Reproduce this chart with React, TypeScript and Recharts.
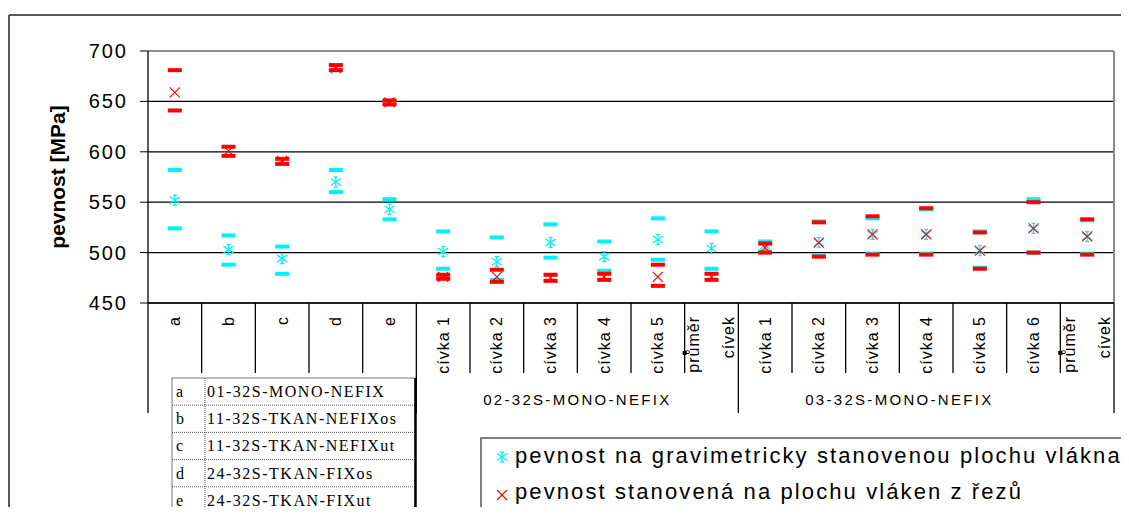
import { ComposedChart, Line, XAxis, YAxis, CartesianGrid, ReferenceLine } from "recharts";

const categories = [
  "a", "b", "c", "d", "e",
  "cívka 1", "cívka 2", "cívka 3", "cívka 4", "cívka 5", "průměr cívek",
  "cívka 1", "cívka 2", "cívka 3", "cívka 4", "cívka 5", "cívka 6", "průměr cívek",
];

// pevnost na gravimetricky stanovenou plochu vlákna
const cyanMean = [552, 503, 494, 570, 543, 501, 491, 510, 496, 513, 504, 507, 510, 518, 518, 502, 524, 516];
const cyanMax = [582, 517, 506, 582, 553, 521, 515, 528, 511, 534, 521, 511, 531, 534, 543, 521, 553, 532];
const cyanMin = [524, 488, 479, 560, 533, 484, 473, 495, 482, 493, 484, 501, 497, 499, 499, 485, 500, 499];

// pevnost stanovená na plochu vláken z řezů
const redMean = [659, 601, 591, 683, 649, 476, 476, 475, 476, 476, 476, 505, 510, 518, 518, 502, 524, 516];
const redMax = [681, 605, 593, 686, 651, 478, 483, 478, 479, 488, 479, 509, 530, 536, 544, 520, 550, 533];
const redMin = [641, 596, 588, 681, 647, 474, 471, 472, 473, 467, 473, 500, 496, 498, 498, 484, 500, 498];

const yTicks = [450, 500, 550, 600, 650, 700];
const groupBounds = [0, 5, 11, 18];
const averageBounds = [10, 17];
const groupLabels = ["02-32S-MONO-NEFIX", "03-32S-MONO-NEFIX"];
const groupLabelAt = [8, 14];

const tableKeys = ["a", "b", "c", "d", "e"];
const tableNames = [
  "01-32S-MONO-NEFIX",
  "11-32S-TKAN-NEFIXos",
  "11-32S-TKAN-NEFIXut",
  "24-32S-TKAN-FIXos",
  "24-32S-TKAN-FIXut",
];
const legendLabels = [
  "pevnost na gravimetricky stanovenou plochu vlákna",
  "pevnost stanovená na plochu vláken z řezů",
];

const CYAN = "#00f0f8";
const RED = "#ff0000";
const SANS = "Arial, 'Liberation Sans', sans-serif";
const SERIF = "'Liberation Serif', 'Times New Roman', serif";

const data = categories.map((name, i) => ({
  x: i + 0.5,
  name,
  cMean: cyanMean[i],
  cMax: cyanMax[i],
  cMin: cyanMin[i],
  rMean: redMean[i],
  rMax: redMax[i],
  rMin: redMin[i],
}));

const xTicks = Array.from({ length: categories.length * 2 + 1 }, (_, i) => i / 2);

function Dash({ cx, cy, color }: any) {
  if (cx == null || cy == null) return null;
  return <rect x={cx - 7} y={cy - 2} width={14} height={4} fill={color} />;
}

function Star({ cx, cy, color, size = 5 }: any) {
  if (cx == null || cy == null) return null;
  const s = size;
  return (
    <g stroke={color} strokeWidth={1.3} fill="none">
      <line x1={cx} y1={cy - s} x2={cx} y2={cy + s} />
      <line x1={cx - s} y1={cy - s * 0.7} x2={cx + s} y2={cy + s * 0.7} />
      <line x1={cx - s} y1={cy + s * 0.7} x2={cx + s} y2={cy - s * 0.7} />
      <line x1={cx - 2} y1={cy - s} x2={cx + 2} y2={cy - s} />
      <line x1={cx - 2} y1={cy + s} x2={cx + 2} y2={cy + s} />
    </g>
  );
}

function Cross({ cx, cy, color, size = 5 }: any) {
  if (cx == null || cy == null) return null;
  const s = size;
  return (
    <g stroke={color} strokeWidth={1.1} fill="none">
      <line x1={cx - s} y1={cy - s} x2={cx + s} y2={cy + s} />
      <line x1={cx - s} y1={cy + s} x2={cx + s} y2={cy - s} />
    </g>
  );
}

function YTick({ x, y, payload }: any) {
  return (
    <text x={x} y={y} textAnchor="end" dominantBaseline="central" fontSize={20} letterSpacing={2} fontFamily={SANS} fill="#000">
      {payload.value}
    </text>
  );
}

function CatLabel({ x, y, text }: any) {
  return (
    <text
      transform={`translate(${x},${y}) rotate(-90)`}
      textAnchor="end"
      dominantBaseline="central"
      fontSize={16}
      letterSpacing={1}
      fontFamily={SANS}
      fill="#000"
    >
      {text}
    </text>
  );
}

function XTick({ x, y, payload }: any) {
  const v = payload.value;
  if (Number.isInteger(v)) {
    const long = groupBounds.includes(v);
    const gi = groupLabelAt.indexOf(v);
    return (
      <g>
        <line x1={x} x2={x} y1={y} y2={y + (long ? 110 : 70)} stroke="#000" strokeWidth={1.3} />
        {averageBounds.includes(v) && <rect x={x - 2} y={y + 48} width={4} height={4} fill="#000" />}
        {gi >= 0 && (
          <text x={x} y={y + 102} textAnchor="middle" fontSize={15} letterSpacing={2.3} fontFamily={SANS} fill="#000">
            {groupLabels[gi]}
          </text>
        )}
      </g>
    );
  }
  const label = categories[Math.floor(v)];
  const words = label.split(" ");
  if (label.startsWith("průměr")) {
    return (
      <g>
        <CatLabel x={x - 18} y={y + 13} text={words[0]} />
        <CatLabel x={x + 17} y={y + 13} text={words[1]} />
      </g>
    );
  }
  return <CatLabel x={x} y={y + 13} text={label} />;
}

function YLabel({ viewBox }: any) {
  const cy = viewBox.y + viewBox.height / 2;
  return (
    <text
      transform={`translate(${viewBox.x + 57},${cy}) rotate(-90)`}
      textAnchor="middle"
      dominantBaseline="central"
      fontSize={21}
      fontWeight="bold"
      fontFamily={SANS}
      fill="#000"
    >
      pevnost [MPa]
    </text>
  );
}

function Overlay() {
  const rowH = 136 / 5;
  return (
    <svg width={1129} height={515} style={{ position: "absolute", left: 0, top: 0, pointerEvents: "none" }}>
      <line x1={9} y1={15} x2={1129} y2={15} stroke="#5a5a5a" strokeWidth={2} />
      <line x1={9} y1={15} x2={9} y2={515} stroke="#5a5a5a" strokeWidth={2} />

      {/* table of sample names */}
      <rect x={172} y={378} width={243} height={136} fill="#fff" stroke="#777" strokeWidth={1} />
      {tableKeys.map((k, i) => (
        <g key={k}>
          {i > 0 && (
            <line x1={172} x2={415} y1={378 + rowH * i} y2={378 + rowH * i} stroke="#555" strokeDasharray="1 1" />
          )}
          <text x={176} y={378 + rowH * i + 19} fontSize={16} fontFamily={SERIF} fill="#000">
            {k}
          </text>
          <text x={207} y={378 + rowH * i + 19} fontSize={16} letterSpacing={1.5} fontFamily={SERIF} fill="#000">
            {tableNames[i]}
          </text>
        </g>
      ))}
      <line x1={205} x2={205} y1={378} y2={514} stroke="#555" strokeDasharray="1 1" />
      <line x1={415.5} x2={415.5} y1={378} y2={514} stroke="#000" strokeWidth={2.5} />

      {/* legend */}
      <rect x={481} y={438} width={700} height={76} fill="#fff" stroke="#555" strokeWidth={1.5} />
      <Star cx={502} cy={457} color={CYAN} size={5} />
      <Cross cx={502} cy={495} color={RED} size={5} />
      <text x={515} y={463} fontSize={22} letterSpacing={2.1} fontFamily={SANS} fill="#000">
        {legendLabels[0]}
      </text>
      <text x={515} y={499} fontSize={22} letterSpacing={2.1} fontFamily={SANS} fill="#000">
        {legendLabels[1]}
      </text>
    </svg>
  );
}

export default function App() {
  return (
    <div style={{ position: "relative", width: 1129, height: 515, margin: -8, overflow: "hidden", background: "#fff" }}>
      <ComposedChart width={1129} height={515} data={data} margin={{ top: 51, right: 15, bottom: 0, left: 0 }}>
        <CartesianGrid vertical={false} stroke="#000" strokeWidth={1.2} />
        <XAxis
          dataKey="x"
          type="number"
          domain={[0, 18]}
          ticks={xTicks}
          interval={0}
          height={212}
          tickSize={0}
          tickMargin={0}
          tickLine={false}
          axisLine={{ stroke: "#000", strokeWidth: 1.3 }}
          tick={<XTick />}
        />
        <YAxis
          type="number"
          domain={[450, 700]}
          ticks={yTicks}
          interval={0}
          width={148}
          tickSize={8}
          tickMargin={12}
          tickLine={{ stroke: "#000" }}
          axisLine={{ stroke: "#000", strokeWidth: 1.3 }}
          tick={<YTick />}
          label={<YLabel />}
        />
        <ReferenceLine y={700} stroke="#8c8c8c" strokeWidth={2} />
        <ReferenceLine x={18} stroke="#8c8c8c" strokeWidth={2} />
        <Line dataKey="cMin" stroke="none" dot={<Dash color={CYAN} />} activeDot={false} legendType="none" isAnimationActive={false} />
        <Line dataKey="cMax" stroke="none" dot={<Dash color={CYAN} />} activeDot={false} legendType="none" isAnimationActive={false} />
        <Line dataKey="cMean" stroke="none" dot={<Star color={CYAN} />} activeDot={false} legendType="none" isAnimationActive={false} />
        <Line dataKey="rMin" stroke="none" dot={<Dash color={RED} />} activeDot={false} legendType="none" isAnimationActive={false} />
        <Line dataKey="rMax" stroke="none" dot={<Dash color={RED} />} activeDot={false} legendType="none" isAnimationActive={false} />
        <Line dataKey="rMean" stroke="none" dot={<Cross color={RED} />} activeDot={false} legendType="none" isAnimationActive={false} />
      </ComposedChart>
      <Overlay />
    </div>
  );
}
